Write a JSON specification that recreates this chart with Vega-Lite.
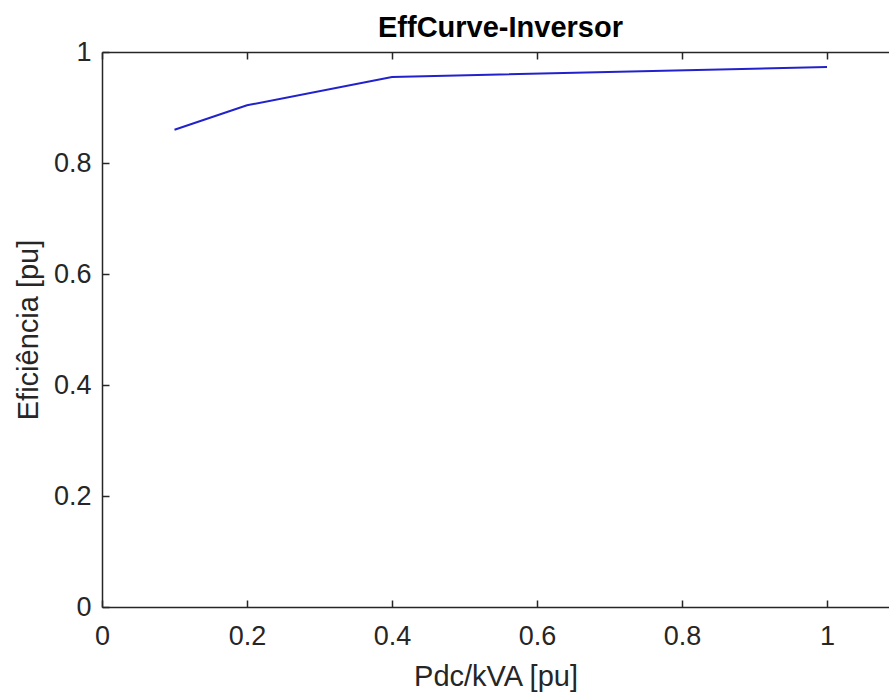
{
  "$schema": "https://vega.github.io/schema/vega-lite/v6.json",
  "width": 787,
  "height": 555,
  "autosize": {"type": "none"},
  "padding": {"left": 102, "top": 52, "right": 0, "bottom": 86},
  "background": "white",
  "view": {"stroke": null},
  "config": {"font": "Liberation Sans"},
  "title": {"text": "EffCurve-Inversor", "fontSize": 29, "fontWeight": "bold", "font": "Liberation Sans", "color": "#000000", "offset": -5, "anchor": "middle", "dx": 5},
  "data": {"values": [
    {"pdc": 0.1, "eff": 0.86},
    {"pdc": 0.2, "eff": 0.904},
    {"pdc": 0.4, "eff": 0.955},
    {"pdc": 1.0, "eff": 0.973}
  ]},
  "layer": [
    {
      "mark": {"type": "line", "color": "#2222cc", "strokeWidth": 2},
      "encoding": {
        "x": {"field": "pdc", "type": "quantitative", "scale": {"domain": [0, 1.0855], "nice": false, "zero": false},
          "axis": {"orient": "bottom", "values": [0, 0.2, 0.4, 0.6, 0.8, 1], "format": "~g", "grid": false, "tickSize": -7, "tickColor": "#262626", "tickWidth": 1.5, "domainColor": "#262626", "domainWidth": 1.5, "labelFontSize": 27, "labelColor": "#262626", "labelPadding": 23, "labelFlush": false, "labelOverlap": false, "title": "Pdc/kVA [pu]", "titleFontSize": 29, "titleFontWeight": "normal", "titleColor": "#262626", "titlePadding": 13}},
        "y": {"field": "eff", "type": "quantitative", "scale": {"domain": [0, 1], "nice": false},
          "axis": {"orient": "left", "values": [0, 0.2, 0.4, 0.6, 0.8, 1], "format": "~g", "grid": false, "tickSize": -7, "tickColor": "#262626", "tickWidth": 1.5, "domainColor": "#262626", "domainWidth": 1.5, "labelFontSize": 27, "labelColor": "#262626", "labelPadding": 18, "labelFlush": false, "labelOverlap": false, "title": "Eficiência [pu]", "titleFontSize": 29, "titleFontWeight": "normal", "titleColor": "#262626", "titlePadding": 10}}
      }
    },
    {
      "mark": {"type": "line", "opacity": 0},
      "encoding": {
        "x": {"field": "pdc", "type": "quantitative", "scale": {"domain": [0, 1.0855], "nice": false, "zero": false},
          "axis": {"orient": "top", "values": [0, 0.2, 0.4, 0.6, 0.8, 1], "grid": false, "tickSize": -7, "tickColor": "#262626", "tickWidth": 1.5, "domainColor": "#262626", "domainWidth": 1.5, "labels": false, "title": null}},
        "y": {"field": "eff", "type": "quantitative"}
      }
    }
  ],
  "resolve": {"axis": {"x": "independent"}}
}
